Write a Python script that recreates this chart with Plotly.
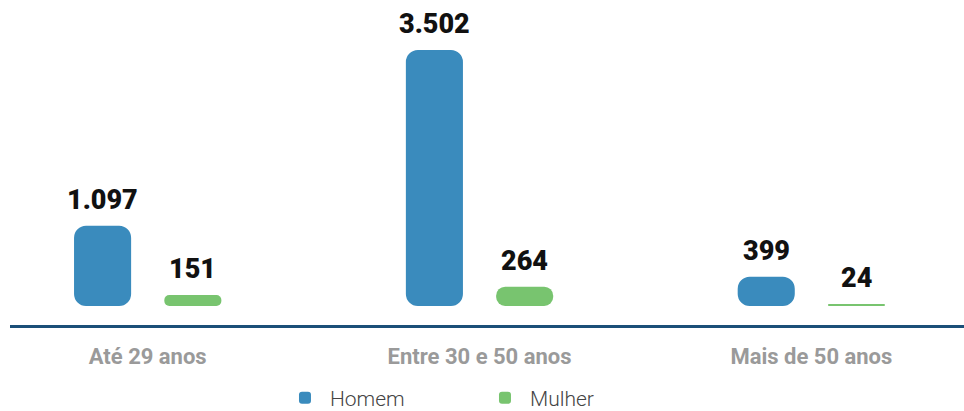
import plotly.graph_objects as go

categories = ["Até 29 anos", "Entre 30 e 50 anos", "Mais de 50 anos"]
homem = [1097, 3502, 399]
mulher = [151, 264, 24]
series_names = ["Homem", "Mulher"]
colors = ["#3a8bbd", "#78c46f"]

def fmt(v):
    return f"{v:,}".replace(",", ".")

fig = go.Figure()
offsets = [-0.222, 0.05]
width = 0.172
label_xshift = [-45, 45]
for name, vals, col, off, xs in zip(series_names, [homem, mulher], colors, offsets, label_xshift):
    fig.add_trace(go.Bar(
        x=categories, y=vals, base=[0] * len(vals), name=name,
        marker=dict(color=col, cornerradius=12, line=dict(width=0)),
        width=[width] * 3, offset=[off] * 3,
        hoverinfo="skip",
    ))
    for c, v in zip(categories, vals):
        fig.add_annotation(
            x=c, y=v, xref="x", yref="y", text=fmt(v), showarrow=False,
            xanchor="center", yanchor="bottom", xshift=xs, yshift=8,
            font=dict(family="Roboto", size=27, color="#111111", weight=900),
        )

fig.update_layout(
    width=964, height=411,
    barmode="overlay",
    plot_bgcolor="white", paper_bgcolor="white",
    margin=dict(l=10, r=0, t=10, b=86, autoexpand=False),
    showlegend=True,
    legend=dict(orientation="h", x=0.283, xanchor="left", y=-0.232, yanchor="middle",
                font=dict(family="Roboto", size=21, color="#444444", weight=300),
                itemwidth=40,
                entrywidth=145, entrywidthmode="pixels", traceorder="normal"),
)
fig.update_xaxes(
    type="category", range=[-0.415, 2.46],
    showline=True, linecolor="#1b4f78", linewidth=3,
    ticks="", ticklabelstandoff=10,
    tickfont=dict(family="Roboto", size=22, color="#9a9a9a", weight=700),
    showgrid=False, zeroline=False,
)
fig.update_yaxes(visible=False, range=[-260, 4049], showgrid=False, zeroline=False)

fig.write_html(
    "out.html",
    config={"displayModeBar": False},
    post_script="document.body.style.margin='0';document.body.style.overflow='hidden';",
)
